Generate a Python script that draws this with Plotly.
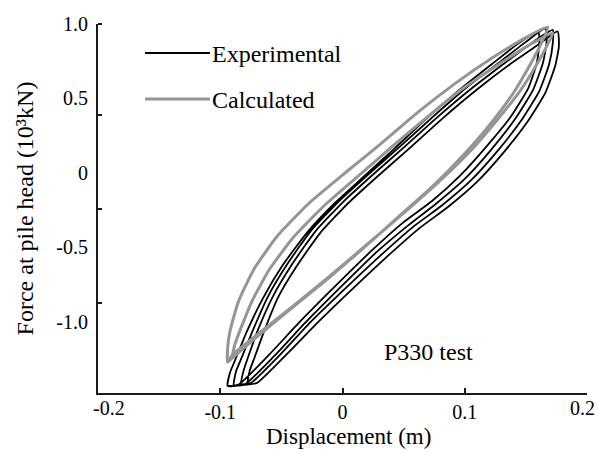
import plotly.graph_objects as go

# Measured (experimental) pile-head loops, four load cycles traced in order
exp_disp = [
    # cycle 1
    -0.094, -0.085, -0.060, -0.035, -0.006, 0.024, 0.050, 0.073, 0.096, 0.117, 0.137, 0.152, 0.159, 0.161, 0.160,
    0.144, 0.122, 0.096, 0.068, 0.042, 0.018, -0.006, -0.029, -0.049, -0.065, -0.078, -0.087, -0.092, -0.094,
    # cycle 2
    -0.089, -0.080, -0.056, -0.031, -0.002, 0.028, 0.054, 0.076, 0.100, 0.121, 0.141, 0.156, 0.164, 0.167, 0.166,
    0.150, 0.128, 0.101, 0.073, 0.046, 0.021, -0.003, -0.026, -0.045, -0.061, -0.073, -0.082, -0.087, -0.089,
    # cycle 3
    -0.083, -0.075, -0.051, -0.026, 0.003, 0.033, 0.058, 0.081, 0.105, 0.126, 0.146, 0.161, 0.169, 0.172, 0.172,
    0.156, 0.133, 0.106, 0.077, 0.050, 0.025, 0.001, -0.022, -0.041, -0.057, -0.069, -0.077, -0.081, -0.083,
    # cycle 4
    -0.078, -0.070, -0.046, -0.021, 0.008, 0.038, 0.063, 0.086, 0.110, 0.131, 0.151, 0.166, 0.174, 0.177, 0.176,
    0.160, 0.137, 0.110, 0.081, 0.054, 0.029, 0.005, -0.018, -0.037, -0.053, -0.064, -0.072, -0.076, -0.078,
]
exp_force = [
    -1.43, -1.42, -1.22, -1.00, -0.76, -0.52, -0.33, -0.19, -0.02, 0.17, 0.37, 0.57, 0.74, 0.87, 0.95,
    0.87, 0.73, 0.56, 0.36, 0.16, -0.02, -0.20, -0.40, -0.62, -0.84, -1.06, -1.24, -1.34, -1.43,
    -1.43, -1.42, -1.23, -1.01, -0.77, -0.53, -0.35, -0.21, -0.04, 0.15, 0.36, 0.56, 0.74, 0.88, 0.97,
    0.88, 0.74, 0.57, 0.37, 0.17, -0.01, -0.19, -0.39, -0.61, -0.83, -1.05, -1.23, -1.33, -1.43,
    -1.42, -1.41, -1.22, -1.00, -0.77, -0.54, -0.36, -0.22, -0.05, 0.14, 0.35, 0.55, 0.73, 0.87, 0.96,
    0.88, 0.74, 0.57, 0.37, 0.17, -0.01, -0.19, -0.39, -0.61, -0.83, -1.05, -1.23, -1.33, -1.42,
    -1.42, -1.41, -1.22, -1.01, -0.78, -0.55, -0.37, -0.23, -0.06, 0.13, 0.34, 0.54, 0.72, 0.85, 0.95,
    0.86, 0.73, 0.56, 0.36, 0.16, -0.02, -0.20, -0.40, -0.62, -0.84, -1.06, -1.24, -1.33, -1.42,
]

# Computed response, two cycles
calc_disp = [
    -0.094, -0.070, -0.045, -0.015, 0.015, 0.045, 0.075, 0.100, 0.122, 0.140, 0.153, 0.162, 0.168,
    0.148, 0.122, 0.092, 0.062, 0.032, 0.002, -0.027, -0.053, -0.072, -0.085, -0.092, -0.094, -0.094,
    -0.090, -0.066, -0.040, -0.010, 0.020, 0.050, 0.080, 0.106, 0.128, 0.146, 0.159, 0.167, 0.172,
    0.153, 0.128, 0.099, 0.070, 0.041, 0.013, -0.015, -0.040, -0.060, -0.074, -0.083, -0.088, -0.090,
]
calc_force = [
    -1.27, -1.10, -0.93, -0.73, -0.52, -0.30, -0.08, 0.13, 0.34, 0.54, 0.72, 0.86, 0.98,
    0.90, 0.77, 0.60, 0.41, 0.20, 0.00, -0.20, -0.42, -0.64, -0.86, -1.06, -1.18, -1.27,
    -1.22, -1.06, -0.89, -0.69, -0.48, -0.27, -0.05, 0.16, 0.37, 0.56, 0.73, 0.85, 0.94,
    0.86, 0.73, 0.57, 0.38, 0.18, -0.02, -0.22, -0.43, -0.65, -0.86, -1.04, -1.15, -1.22,
]

x_tickvals = [-0.2, -0.1, 0, 0.1, 0.2]
x_ticktext = ["-0.2", "-0.1", "0", "0.1", "0.2"]
y_tickvals = [1.0, 0.5, 0, -0.5, -1.0]
y_ticktext = ["1.0", "0.5", "0", "-0.5", "-1.0"]
y_tickmarks = [1.0, 0.39, -0.24, -0.87]

series_names = ["Experimental", "Calculated"]
series_colors = ["#000000", "#959595"]

FONT = "Liberation Serif, Times New Roman, serif"
FS = 24      # key and note
FS_TITLE = 23
FS_TICK = 20
AX = "#1a1a1a"
W, H = 598, 454
L, R, T, B = 98, 11, 24, 61


def px_to_paper(px, py):
    return (px - L) / (W - L - R), (H - B - py) / (H - T - B)


fig = go.Figure()
fig.add_trace(go.Scatter(x=exp_disp, y=exp_force, mode="lines", name=series_names[0],
                         line=dict(color=series_colors[0], width=1.8, shape="spline", smoothing=0.5),
                         showlegend=False))
fig.add_trace(go.Scatter(x=calc_disp, y=calc_force, mode="lines", name=series_names[1],
                         line=dict(color=series_colors[1], width=3, shape="spline", smoothing=0.5),
                         showlegend=False))

# Key: short line samples with their labels
for name, color, py, lw in [(series_names[0], series_colors[0], 53, 2), (series_names[1], series_colors[1], 99, 3)]:
    x0, y0 = px_to_paper(145, py)
    x1, _ = px_to_paper(210, py)
    fig.add_shape(type="line", xref="paper", yref="paper", x0=x0, x1=x1, y0=y0, y1=y0,
                  line=dict(color=color, width=lw))
    fig.add_annotation(xref="paper", yref="paper", x=x1, y=y0, text=name, showarrow=False,
                       xanchor="left", yanchor="middle", xshift=0, yshift=-1,
                       font=dict(family=FONT, size=FS, color="black"))

fig.add_annotation(x=0.070, y=-1.20, text="P330 test", showarrow=False,
                   font=dict(family=FONT, size=FS, color="black"))

# x tick labels: inner ones on the axis, the two end labels kept inside the frame
tick_font = dict(family=FONT, size=FS_TICK, color="black")
x_axis_text = [t if v not in (-0.2, 0.2) else "" for v, t in zip(x_tickvals, x_ticktext)]
fig.add_annotation(x=x_tickvals[0], y=0, xref="x", yref="paper", text=x_ticktext[0], showarrow=False,
                   xanchor="left", yanchor="top", xshift=-7, yshift=-2, font=tick_font)
fig.add_annotation(x=x_tickvals[-1], y=0, xref="x", yref="paper", text=x_ticktext[-1], showarrow=False,
                   xanchor="right", yanchor="top", xshift=10, yshift=-2, font=tick_font)

# x axis title
tx, ty = px_to_paper(348, 436)
fig.add_annotation(x=tx, y=ty, xref="paper", yref="paper", text="Displacement (m)", showarrow=False,
                   xanchor="center", yanchor="middle", font=dict(family=FONT, size=FS_TITLE, color="black"))

axis_common = dict(showline=True, linecolor=AX, linewidth=2, showgrid=False, zeroline=False,
                   tickfont=tick_font)

fig.update_xaxes(range=[-0.2, 0.2], tickvals=x_tickvals, ticktext=x_axis_text, ticks="inside",
                 ticklen=5, tickwidth=1.5, tickcolor=AX, ticklabelstandoff=0, **axis_common)
fig.update_yaxes(range=[-1.477, 1.0], tickvals=y_tickvals, ticktext=y_ticktext, ticks="",
                 minor=dict(tickvals=y_tickmarks, ticks="inside", ticklen=4, tickwidth=1.5, tickcolor=AX),
                 ticklabelstandoff=4,
                 title=dict(text="Force at pile head (10³kN)", font=dict(family=FONT, size=FS, color="black"),
                            standoff=16),
                 **axis_common)

fig.update_layout(width=W, height=H, margin=dict(l=L, r=R, t=T, b=B),
                  plot_bgcolor="white", paper_bgcolor="white", showlegend=False)

fig.write_html("out.html")
